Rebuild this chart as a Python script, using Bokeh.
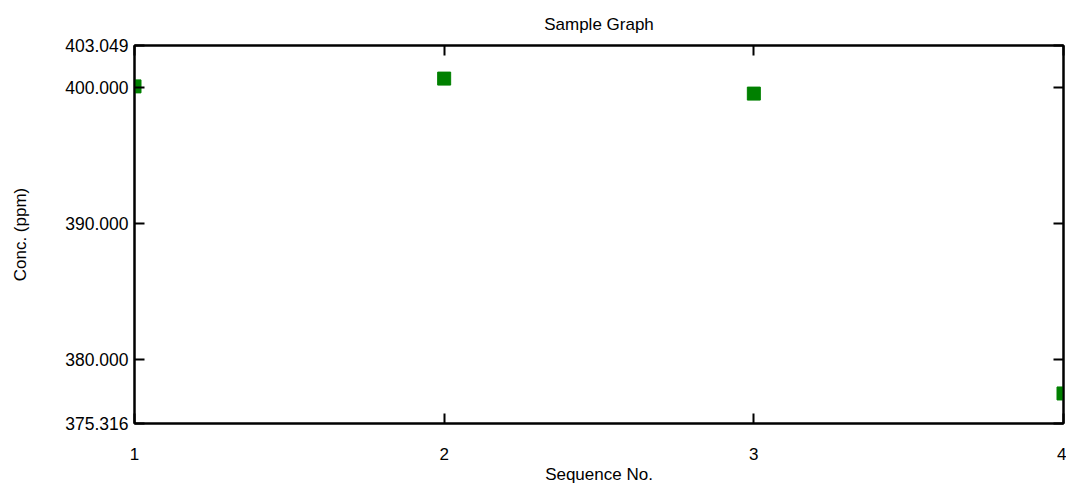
from bokeh.plotting import figure
from bokeh.models import LinearAxis, FixedTicker, PrintfTickFormatter, Range1d, CustomJSTickFormatter
from bokeh.embed import file_html
from bokeh.resources import INLINE

# Data
seq = [1, 2, 3, 4]
conc = [400.05, 400.62, 399.52, 377.52]
y_min, y_max = 375.316, 403.049
y_ticks = [375.316, 380.0, 390.0, 400.0, 403.049]
x_ticks = [1, 2, 3, 4]

FONT = "Liberation Sans"
FS = "17px"

p = figure(width=1066, height=487, output_backend="svg", toolbar_location=None,
           x_range=Range1d(1, 4), y_range=Range1d(y_min, y_max),
           min_border_left=134, min_border_right=3, min_border_top=45,
           min_border_bottom=64, title="Sample Graph")

p.title.align = "center"
p.title.text_font = FONT
p.title.text_font_size = FS
p.title.text_font_style = "normal"
p.title.text_color = "black"
p.title.standoff = 23

p.xgrid.visible = False
p.ygrid.visible = False
p.outline_line_color = "black"
p.outline_line_width = 2
p.background_fill_color = "white"
p.border_fill_color = "white"

p.scatter(seq, conc, marker="square", size=13, fill_color="green", line_color="green")

def style_axis(ax, labels=True):
    ax.axis_line_color = "black"
    ax.axis_line_width = 2
    ax.major_tick_line_color = "black"
    ax.major_tick_line_width = 2
    ax.major_tick_in = 10
    ax.major_tick_out = 0
    ax.minor_tick_line_color = None
    ax.major_label_text_font = FONT
    ax.major_label_text_font_size = FS
    ax.major_label_text_color = "black"
    ax.axis_label_text_font = FONT
    ax.axis_label_text_font_size = FS
    ax.axis_label_text_font_style = "normal"
    ax.axis_label_text_color = "black"
    if not labels:
        ax.formatter = CustomJSTickFormatter(code="return ''")
        ax.major_label_standoff = 0

# bottom x axis
xa = p.xaxis[0]
xa.ticker = FixedTicker(ticks=x_ticks)
style_axis(xa)
xa.axis_label = "Sequence No."
xa.major_label_standoff = 24
xa.axis_label_standoff = 2

# left y axis
ya = p.yaxis[0]
ya.ticker = FixedTicker(ticks=y_ticks)
ya.formatter = PrintfTickFormatter(format="%.3f")
style_axis(ya)
ya.major_label_text_font_size = "17.5px"
ya.axis_label = "Conc. (ppm)"
ya.major_label_standoff = 6
ya.axis_label_standoff = 32

# right & top axes (ticks only)
ra = LinearAxis(ticker=FixedTicker(ticks=y_ticks))
style_axis(ra, labels=False)
p.add_layout(ra, "right")

ta = LinearAxis(ticker=FixedTicker(ticks=x_ticks))
style_axis(ta, labels=False)
ta.major_label_standoff = -6
p.add_layout(ta, "above")

open("out.html", "w").write(file_html(p, INLINE))
